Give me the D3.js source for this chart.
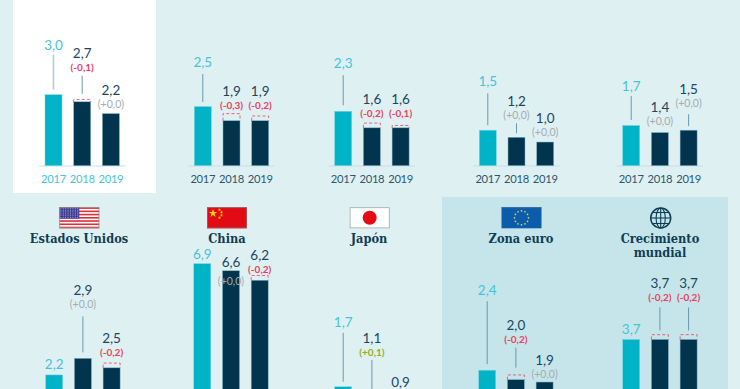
<!DOCTYPE html>
<html><head><meta charset="utf-8">
<script src="https://cdn.jsdelivr.net/npm/d3@7"></script>
<style>
html,body{margin:0;padding:0;background:#dff0f3;overflow:hidden}
svg{display:block}
text{font-family:"Lato",sans-serif}
.title{font-family:"DejaVu Serif Condensed","DejaVu Serif",serif;font-stretch:condensed;font-weight:700;font-size:12.7px;fill:#0f3d55;text-anchor:middle}
</style></head><body>
<svg id="c" width="740" height="389"></svg>
<script>
// ---------- data ----------
const years = ["2017","2018","2019"];
const panelNames = ["","","","","","Estados Unidos","China","Japón","Zona euro","Crecimiento mundial"];
const values2017 = [3.0,2.5,2.3,1.5,1.7,2.2,6.9,1.7,2.4,3.7];
const values2018 = [2.7,1.9,1.6,1.2,1.4,2.9,6.6,1.1,2.0,3.7];
const values2019 = [2.2,1.9,1.6,1.0,1.5,2.5,6.2,0.9,1.9,3.7];
const revisions2018 = [-0.1,-0.3,-0.2,0,0,0,0,0.1,-0.2,-0.2];
const revisions2019 = [0,-0.2,-0.1,0,0,-0.2,-0.2,0,0,-0.2];

// ---------- layout (pixels) ----------
const panelX = [45,194.3,334.7,479.3,622.7,45.7,193.8,334.7,478.7,622.7];
const barStep = 28.7, barW = 17;
const baselines = [165.7,427];
const unitPx = 23.67;
// value-text baseline, pixels above the top of its bar
const labelUp = [[45,44,19],[39.5,25,25],[43,24,24],[44,31,19],[34.5,20.5,36],
                 [6,63,25],[4.7,4,20],[60,58,19],[75,50,17],[5.4,51,51]];
// leader [upper end, lower end], pixels above the top of its bar
const leaders = [[[40,5],[26,8],null],[[32.5,4.5],null,null],[[36,6],null,null],[[37,5],[14,4],null],[[29.5,5.5],null,[16,4]],
                 [null,[42,6],null],[null,null,null],[[54,5],[41,12],null],[[69,6],[32,12],null],[null,[32,9],[32,9]]];
const revDrop = 13, revDropChina2018 = 18;
const titleX = [0,0,0,0,0,79,227,369,521,660];

const colors = {bg:"#dff0f3",white:"#fff",band:"#c5e5ea",teal:"#00b3c7",navy:"#02344e",
  tealText:"#45c4d6",navyText:"#1a4660",yearText:"#2a5770",red:"#e8415c",grey:"#a4acb0",green:"#8bb128",
  axis:"#c6dfe8",leader:"#5f8ea3"};

const svg = d3.select("#c");
svg.append("rect").attr("width",740).attr("height",389).attr("fill",colors.bg);
svg.append("rect").attr("x",13).attr("y",0).attr("width",143).attr("height",193).attr("fill",colors.white);
svg.append("rect").attr("x",442).attr("y",197).attr("width",286).attr("height",192).attr("fill",colors.band);

const h = d3.scaleLinear().domain([0,1]).range([0,unitPx]);
const fmt = v => d3.format(".1f")(v).replace(".",",");
const fmtRev = v => "("+(v<0?"-":"+")+fmt(Math.abs(v))+")";
const revCol = v => v<0?colors.red:v>0?colors.green:colors.grey;

panelNames.forEach((name,i)=>{
  const base = baselines[i<5?0:1];
  const g = svg.append("g");
  const x = d3.scaleBand().domain(years).range([panelX[i],panelX[i]+3*barStep]).padding(0);
  const vals=[values2017[i],values2018[i],values2019[i]], revs=[null,revisions2018[i],revisions2019[i]];
  g.append("line").attr("x1",panelX[i]-6).attr("x2",panelX[i]+2*barStep+barW+6)
    .attr("y1",base+.3).attr("y2",base+.3).attr("stroke",colors.axis).attr("stroke-width",1);
  // bars first so that labels sit over them
  years.forEach((yr,j)=>{
    const v=vals[j], bx=x(yr), top=base-h(v);
    g.append("rect").attr("x",bx).attr("y",top).attr("width",barW).attr("height",h(v))
      .attr("fill",j?colors.navy:colors.teal).attr("stroke",j?"#7fb4c6":"#7fd6e0").attr("stroke-width",.5);
    if(j && revs[j]<0){
      const t=base-h(v-revs[j]);
      g.append("path").attr("d",`M${bx},${top}V${t}H${bx+barW}V${top}`).attr("fill","none")
        .attr("stroke",colors.red).attr("stroke-width",.8).attr("stroke-dasharray","3 2.2");
    }
  });
  years.forEach((yr,j)=>{
    const v=vals[j], bx=x(yr), top=base-h(v), cx=bx+barW/2, ly=top-labelUp[i][j];
    const l=leaders[i][j];
    if(l){
      const thick=i===0&&j===0;
      g.append("line").attr("x1",cx).attr("x2",cx).attr("y1",top-l[0]).attr("y2",top-l[1])
        .attr("stroke",thick?"#b5cad3":colors.leader).attr("stroke-width",thick?1.6:.9);
    }
    g.append("text").attr("x",cx).attr("y",ly).attr("text-anchor","middle").attr("font-size",13.5)
      .attr("fill",j?colors.navyText:colors.tealText).text(fmt(v));
    if(j){
      const ry=ly+(i===6&&j===1?revDropChina2018:revDrop);
      if(ry<389) g.append("text").attr("x",cx).attr("y",ry).attr("text-anchor","middle")
        .attr("font-size",revs[j]===0?10.5:10).attr("font-weight",revs[j]===0?400:700)
        .attr("fill",revCol(revs[j])).text(fmtRev(revs[j]));
    }
    if(i<5) g.append("text").attr("x",cx).attr("y",base+17).attr("text-anchor","middle").attr("font-size",11.2)
      .attr("letter-spacing","-0.3").attr("fill",i===0?colors.tealText:colors.yearText).text(yr);
  });
  if(name){
    const words = name==="Crecimiento mundial"?name.split(" "):[name];
    words.forEach((w,k)=> svg.append("text").attr("class","title").attr("x",titleX[i]).attr("y",243+k*14).text(w));
  }
});

// ---------- flags and globe ----------
function flagBox(x,y,fill){
  const f=svg.append("g").attr("transform",`translate(${x},${y})`);
  f.append("rect").attr("width",40).attr("height",21).attr("fill",fill);
  return f;
}
function flagEdge(f,c){ f.append("rect").attr("x",.4).attr("y",.4).attr("width",39.2).attr("height",20.2).attr("fill","none").attr("stroke",c).attr("stroke-width",.8); }
// USA
const us=flagBox(59.3,207.3,"#fff");
d3.range(13).filter(k=>k%2===0).forEach(k=>us.append("rect").attr("y",k*21/13).attr("width",40).attr("height",21/13).attr("fill","#d9303c"));
us.append("rect").attr("width",20).attr("height",11.3).attr("fill","#3f3d93");
d3.range(5).forEach(r=>d3.range(8).forEach(c=>us.append("circle").attr("cx",1.6+c*2.4).attr("cy",1.5+r*2.1).attr("r",.55).attr("fill","#b9b8dc")));
flagEdge(us,"#9a8f8f");
// China
const cn=flagBox(207,207.3,"#e30a13");
cn.append("path").attr("d",d3.symbol(d3.symbolStar,22)()).attr("transform","translate(6,6)").attr("fill","#f6d21a");
[[12.5,2.5],[14.5,5],[14.5,8],[12.5,10.5]].forEach(p=>cn.append("path").attr("d",d3.symbol(d3.symbolStar,3.5)()).attr("transform",`translate(${p})`).attr("fill","#f6d21a"));
flagEdge(cn,"#8c6b6b");
// Japan
const jp=flagBox(349.7,207.3,"#fff");
jp.append("circle").attr("cx",20).attr("cy",10.5).attr("r",7).attr("fill","#e60a14");
flagEdge(jp,"#9aa3a6");
// EU
const eu=flagBox(501.5,207.3,"#0b5cab");
d3.range(12).forEach(k=>{const a=k/12*2*Math.PI;eu.append("circle").attr("cx",20+7*Math.cos(a)).attr("cy",10.5+7*Math.sin(a)).attr("r",.85).attr("fill","#e8d24a");});
eu.append("rect").attr("width",40).attr("height",1).attr("fill","#3a6a92");
// Globe
const gb=svg.append("g").attr("transform","translate(660.7,218)").attr("fill","none").attr("stroke","#0f3d55");
gb.append("circle").attr("r",10).attr("stroke-width",1.5);
gb.append("ellipse").attr("rx",4.6).attr("ry",10).attr("stroke-width",1.1);
gb.append("line").attr("y1",-10).attr("y2",10).attr("stroke-width",1.1);
[-5.5,0,5.5].forEach(d=>{const w=Math.sqrt(100-d*d);gb.append("line").attr("x1",-w).attr("x2",w).attr("y1",d).attr("y2",d).attr("stroke-width",1.1);});
</script></body></html>
